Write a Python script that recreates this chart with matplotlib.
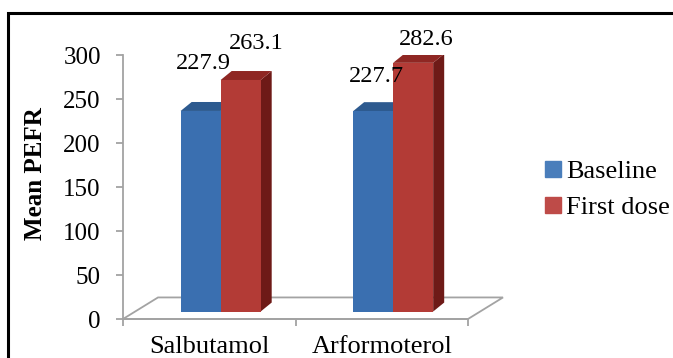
import numpy as np
import matplotlib.pyplot as plt
from matplotlib.patches import Polygon, Rectangle

categories = ['Salbutamol', 'Arformoterol']
series = ['Baseline', 'First dose']
baseline = [227.9, 227.7]
first_dose = [263.1, 282.6]

plt.rcParams['font.family'] = 'serif'
plt.rcParams['font.serif'] = ['Liberation Serif', 'DejaVu Serif']

front_cols = ['#3a6fb0', '#b33b36']
top_cols = ['#2d5a8f', '#8f2723']
side_cols = ['#244a78', '#6e1a17']
legend_cols = ['#4a7ebb', '#be4b48']
grey = '#a3a3a3'

fig = plt.figure(figsize=(6.73, 3.58), dpi=100)
W, H = 673.0, 358.0
ax = fig.add_axes([123 / W, 39 / H, 345 / W, 264 / H])
ax.set_xlim(-0.5, 1.5)
ax.set_ylim(0, 300)

# fake 3d: depth offsets in data units
fdx, fdy = 0.203, 24.5     # floor depth
bdx, bdy = 0.064, 10.2     # bar depth
base = 8.5                 # bars stand a bit back on the floor
shift = 0.066
w = 0.232

# floor outline
floor = Polygon([(-0.5, 0), (1.5, 0), (1.5 + fdx, fdy), (-0.5 + fdx, fdy)],
                closed=True, fill=False, edgecolor=grey, lw=1.3, clip_on=False, zorder=1)
ax.add_patch(floor)

x = np.arange(len(categories))
vals = [baseline, first_dose]
for s in range(2):
    xs = x + shift + (s - 1) * w
    for i, v in enumerate(vals[s]):
        x0, x1 = xs[i], xs[i] + w
        top = base + v
        z = 2 + s * 3
        ax.add_patch(Polygon([(x1, base), (x1, top), (x1 + bdx, top + bdy), (x1 + bdx, base + bdy)],
                             closed=True, facecolor=side_cols[s], edgecolor='none', zorder=z))
        ax.add_patch(Polygon([(x0, top), (x1, top), (x1 + bdx, top + bdy), (x0 + bdx, top + bdy)],
                             closed=True, facecolor=top_cols[s], edgecolor='none', zorder=z))
    ax.bar(xs, vals[s], width=w, bottom=base, align='edge', color=front_cols[s],
           zorder=2 + s * 3 + 1, label=series[s])

# data labels
offsets = [[(3, 47), (3.5, 35)], [(15.5, 36), (13, 23.5)]]
for s in range(2):
    xs = x + shift + (s - 0.5) * w
    for i, v in enumerate(vals[s]):
        ax.annotate(f'{v:.1f}', xy=(xs[i], base + v), xytext=offsets[s][i],
                    textcoords='offset pixels', ha='center', va='center',
                    fontsize=17.5, zorder=10)

for side in ['top', 'right']:
    ax.spines[side].set_visible(False)
ax.spines['left'].set_color(grey)
ax.spines['bottom'].set_color(grey)
ax.spines['left'].set_linewidth(1.3)
ax.spines['bottom'].set_linewidth(1.3)

ax.set_yticks(np.arange(0, 301, 50))
ax.tick_params(axis='y', colors=grey, length=5, width=1.3, pad=11, labelsize=18, labelcolor='black')
ax.set_xticks(x)
ax.set_xticklabels(categories)
ax.set_xticks([-0.5, 0.5, 1.5], minor=True)
ax.tick_params(axis='x', which='major', length=0, pad=12, labelsize=19)
ax.tick_params(axis='x', which='minor', colors=grey, length=5, width=1.3)

fig.text(36 / W, 1 - 174 / H, 'Mean PEFR', rotation=90, ha='center', va='center',
         fontsize=18, fontweight='bold')

handles = [Rectangle((0, 0), 1, 1, color=c) for c in legend_cols]
fig.legend(handles, series, loc='center left', bbox_to_anchor=(545 / W, 1 - 190 / H),
           frameon=False, fontsize=19, handlelength=0.6, handleheight=0.6,
           handletextpad=0.2, labelspacing=0.5, borderpad=0, borderaxespad=0)

# outer frame
fig.patches.append(Rectangle((8 / W, -0.2), 1.2, 1.2 - 13 / H, transform=fig.transFigure,
                             fill=False, edgecolor='black', lw=2.2))

fig.savefig('out.png', dpi=100)
